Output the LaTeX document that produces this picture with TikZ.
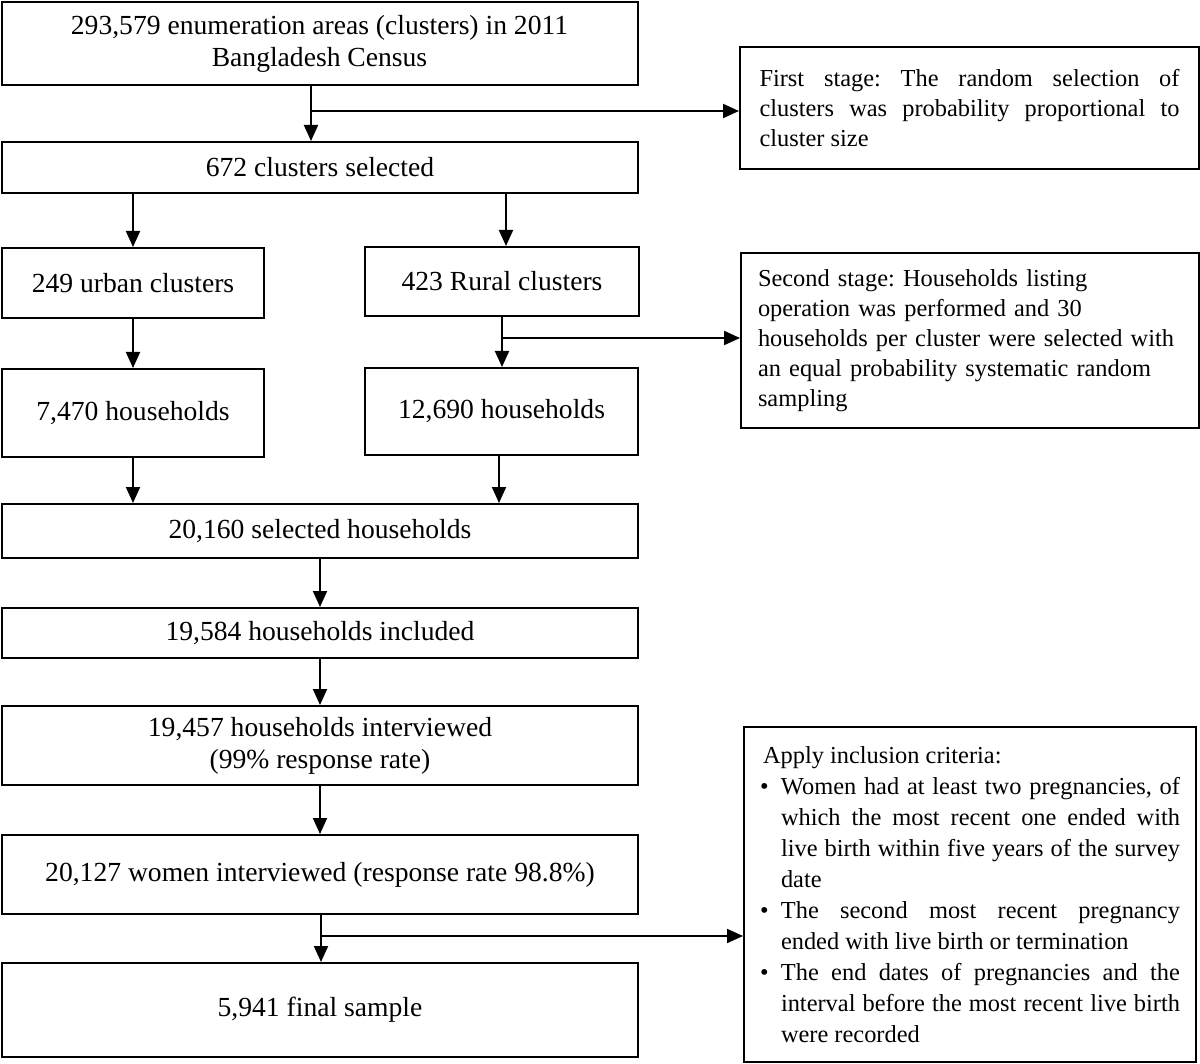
\documentclass[tikz,border=0pt]{standalone}
\usepackage{fontspec}
\setmainfont{Liberation Serif}
\usetikzlibrary{arrows.meta}
\frenchspacing
\newcommand\puce{\par\noindent\hangindent=10.5pt\hangafter=1\makebox[10.5pt][l]{\textbullet}}

\begin{document}
\begin{tikzpicture}[x=0.5pt,y=-0.5pt,
	boite/.style={draw, line width=1pt, inner sep=0pt, align=center, font=\fontsize{13.8}{16}\selectfont},
	note/.style={draw, line width=1pt, inner sep=0pt, text width=210pt, font=\fontsize{12.2}{15}\selectfont},
	fleche/.style={line width=1pt, -{Triangle[length=8pt,width=7pt]}}]
				\useasboundingbox (0,0) rectangle (1200,1064); % la page
				\node[boite, minimum width=318pt, minimum height=41.5pt] (census) at (319.5,43.5) {293,579 enumeration areas (clusters) in 2011\\Bangladesh Census};
				\node[boite, minimum width=318pt, minimum height=25.5pt] (sel) at (320,167.5) {672 clusters selected};
				\node[boite, minimum width=131pt, minimum height=35pt] (urban) at (133,283) {249 urban clusters};
				\node[boite, minimum width=137pt, minimum height=34.5pt] (rural) at (502,281.5) {423 Rural clusters};
				\node[boite, minimum width=131pt, minimum height=44pt] (hhurban) at (133,413) {7,470 households};
				\node[boite, minimum width=136.5pt, minimum height=43.5pt] (hhrural) at (501.5,411.5) {12,690 households};
				\node[boite, minimum width=318pt, minimum height=27pt] (hhsel) at (320,531) {20,160 selected households};
				\node[boite, minimum width=318pt, minimum height=25pt] (hhinc) at (320,633) {19,584 households included};
				\node[boite, minimum width=318pt, minimum height=39.5pt] (hhint) at (320,745.5) {19,457 households interviewed\\(99\% response rate)};
				\node[boite, minimum width=318pt, minimum height=39.5pt] (women) at (320,874.5) {20,127 women interviewed (response rate 98.8\%)};
				\node[boite, minimum width=318pt, minimum height=47pt] (final) at (320,1010) {5,941 final sample};
				% les encadres de droite
				\node[note, align=justify, minimum width=229.5pt, minimum height=61pt] (stage1) at (969.5,108) {First stage: The random selection of\linebreak clusters was probability proportional to\linebreak cluster size\par};
				\node[note, text width=212pt, align=left, minimum width=229pt, minimum height=87.5pt] (stage2) at (970,340.5) {Second stage: Households listing\\operation was performed and 30\\households per cluster were selected with\\an equal probability systematic random\\sampling};
				\node[note, align=justify, minimum width=226pt, minimum height=167.5pt, font=\fontsize{12.2}{15.5}\selectfont] (criteria) at (970,894.5) {\hspace*{1.5pt}Apply inclusion criteria:
					\puce Women had at least two pregnancies, of\linebreak which the most recent one ended with\linebreak live birth within five years of the survey\linebreak date
					\puce The second most recent pregnancy\linebreak ended with live birth or termination
					\puce The end dates of pregnancies and the\linebreak interval before the most recent live birth\linebreak were recorded\par};
				\coordinate (n1) at (311,111);
				\coordinate (n2) at (502,338);
				\coordinate (n3) at (321,936);
				\draw[fleche] (census.south -| n1) -- (sel.north -| n1);
				\draw[fleche] (n1) -- (n1 -| stage1.west);
				\draw[fleche] (sel.south -| urban) -- (urban);
				\draw[fleche] (sel.south -| 506,0) -- (rural.north -| 506,0);
				\draw[fleche] (urban) -- (hhurban);
				\draw[fleche] (rural.south -| n2) -- (hhrural.north -| n2);
				\draw[fleche] (n2) -- (n2 -| stage2.west);
				\draw[fleche] (hhurban) -- (hhurban |- hhsel.north);
				\draw[fleche] (hhrural.south -| 499,0) -- (hhsel.north -| 499,0);
				\foreach \a/\b in {hhsel/hhinc, hhinc/hhint, hhint/women}{
					\draw[fleche] (\a) -- (\b);}
				\draw[fleche] (women.south -| n3) -- (final.north -| n3);
				\draw[fleche] (n3) -- (n3 -| criteria.west);
			\end{tikzpicture}
\end{document}
